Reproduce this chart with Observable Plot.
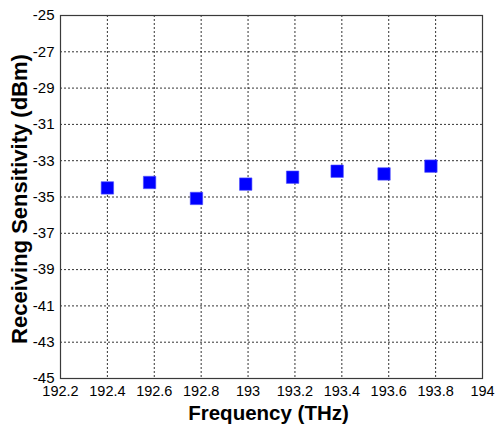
<!DOCTYPE html>
<html>
<head>
<meta charset="utf-8">
<script src="https://cdn.jsdelivr.net/npm/d3@7"></script>
<script src="https://cdn.jsdelivr.net/npm/@observablehq/plot@0.6"></script>
<style>
  html, body { margin: 0; padding: 0; background: #fff; }
  #chart svg { display: block; }
</style>
</head>
<body>
<div id="chart"></div>
<script>
// Receiving sensitivity measured at each channel frequency
const frequencies = [192.40, 192.58, 192.78, 192.99, 193.19, 193.38, 193.58, 193.78];
const sensitivity = [-34.50, -34.20, -35.08, -34.29, -33.91, -33.58, -33.73, -33.30];

// Axis ticks
const xTicks = [192.2, 192.4, 192.6, 192.8, 193, 193.2, 193.4, 193.6, 193.8, 194];
const yTicks = [-45, -43, -41, -39, -37, -35, -33, -31, -29, -27, -25];

const xTitle = "Frequency (THz)";
const yTitle = "Receiving Sensitivity (dBm)";

const data = frequencies.map((f, i) => ({f, s: sensitivity[i]}));

const grid = {stroke: "#111", strokeOpacity: 0.85, strokeDasharray: "2,2", strokeWidth: 1};

const chart = Plot.plot({
  width: 497,
  height: 432,
  marginLeft: 60,
  marginRight: 15,
  marginTop: 15,
  marginBottom: 54,
  style: {fontFamily: "'Liberation Sans', Arial, sans-serif", fontSize: "15px", color: "#000", background: "#fff"},
  x: {domain: [192.2, 194]},
  y: {domain: [-45, -25]},
  marks: [
    Plot.gridX(xTicks, grid),
    Plot.gridY(yTicks, grid),
    Plot.frame({stroke: "#3a3a3a", strokeWidth: 1.2}),
    Plot.axisX(xTicks, {tickSize: 0, tickPadding: 7, tickFormat: d => String(d), label: null, fontSize: 14.5}),
    Plot.axisY(yTicks, {tickSize: 0, tickPadding: 6, tickFormat: d => String(d), label: null, fontSize: 15}),
    Plot.dot(data, {x: "f", y: "s", symbol: "square", r: 7, fill: "#0000ff", stroke: "#4d4dff", strokeWidth: 0.6}),
    Plot.text([xTitle], {frameAnchor: "bottom", dy: 41, dx: -3, text: d => d, fontSize: 20.5, fontWeight: "bold", fill: "#000"}),
    Plot.text([yTitle], {frameAnchor: "left", textAnchor: "middle", rotate: -90, dx: -41, dy: 2, text: d => d, fontSize: 22, fontWeight: "bold", fill: "#000"})
  ]
});

document.getElementById("chart").appendChild(chart);
</script>
</body>
</html>
